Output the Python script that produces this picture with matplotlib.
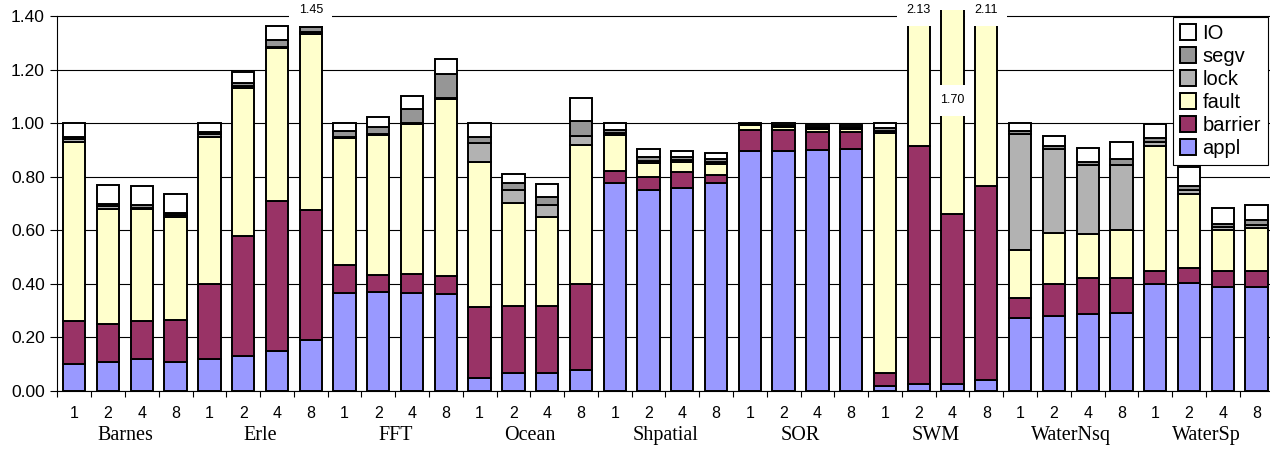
import numpy as np
import matplotlib.pyplot as plt
from matplotlib import transforms

plt.rcParams['font.family'] = ['Liberation Sans', 'DejaVu Sans']

groups = ['Barnes', 'Erle', 'FFT', 'Ocean', 'Shpatial', 'SOR', 'SWM', 'WaterNsq', 'WaterSp']
procs = ['1', '2', '4', '8']

# normalized execution time breakdown, 4 processor counts per app
appl = [0.10, 0.11, 0.12, 0.11,  0.12, 0.13, 0.15, 0.19,
        0.365, 0.37, 0.367, 0.363,  0.05, 0.067, 0.067, 0.08,
        0.776, 0.751, 0.757, 0.776,  0.898, 0.896, 0.90, 0.902,
        0.018, 0.025, 0.027, 0.04,  0.274, 0.28, 0.289, 0.292,
        0.40, 0.404, 0.388, 0.388]
barrier = [0.16, 0.14, 0.14, 0.155,  0.28, 0.45, 0.56, 0.485,
           0.105, 0.065, 0.07, 0.067,  0.265, 0.25, 0.25, 0.318,
           0.045, 0.048, 0.06, 0.03,  0.075, 0.079, 0.069, 0.067,
           0.05, 0.89, 0.635, 0.727,  0.073, 0.12, 0.133, 0.13,
           0.05, 0.055, 0.059, 0.062]
fault = [0.67, 0.43, 0.42, 0.385,  0.55, 0.55, 0.57, 0.66,
         0.475, 0.52, 0.56, 0.66,  0.54, 0.385, 0.333, 0.522,
         0.135, 0.053, 0.037, 0.042,  0.02, 0.01, 0.008, 0.008,
         0.897, 1.18, 1.0, 1.30,  0.178, 0.19, 0.165, 0.18,
         0.464, 0.277, 0.155, 0.159]
lock = [0.01, 0.01, 0.005, 0.008,  0.008, 0.008, 0.005, 0.005,
        0.005, 0.005, 0.005, 0.005,  0.07, 0.048, 0.044, 0.033,
        0.008, 0.008, 0.008, 0.008,  0.002, 0.005, 0.005, 0.005,
        0.005, 0.01, 0.005, 0.01,  0.435, 0.313, 0.258, 0.243,
        0.015, 0.015, 0.01, 0.012]
segv = [0.01, 0.01, 0.01, 0.008,  0.01, 0.012, 0.025, 0.02,
        0.02, 0.025, 0.05, 0.09,  0.025, 0.025, 0.03, 0.055,
        0.012, 0.013, 0.013, 0.012,  0.002, 0.005, 0.005, 0.005,
        0.012, 0.01, 0.01, 0.01,  0.012, 0.013, 0.01, 0.02,
        0.016, 0.016, 0.01, 0.016]
io = [0.05, 0.07, 0.07, 0.07,  0.032, 0.04, 0.055, 0.09,
      0.03, 0.04, 0.048, 0.055,  0.05, 0.035, 0.05, 0.087,
      0.024, 0.03, 0.02, 0.022,  0.003, 0.005, 0.005, 0.006,
      0.018, 0.015, 0.023, 0.023,  0.028, 0.038, 0.053, 0.064,
      0.053, 0.068, 0.062, 0.056]

names = ['appl', 'barrier', 'fault', 'lock', 'segv', 'IO']
series = [appl, barrier, fault, lock, segv, io]
colors = ['#9999FF', '#993366', '#FFFFCC', '#B2B2B2', '#969696', '#FFFFFF']

ymax = 1.423

fig = plt.figure(figsize=(12.7, 4.5), dpi=100)
ax = fig.add_axes([0.0452, 0.1311, 0.9575, 0.8467])

x = np.arange(len(appl))
bottom = np.zeros(len(appl))
handles = []
for vals, col, name in zip(series, colors, names):
    vals = np.array(vals)
    b = ax.bar(x, vals, 0.66, bottom=bottom, color=col, edgecolor='black',
               linewidth=1.4, label=name, zorder=3)
    handles.append(b)
    bottom += vals

# totals of the bars that run off the top
label_y = {26: 1.086}
for i, tot in enumerate(bottom):
    if tot > 1.40:
        ax.text(i, label_y.get(i, ymax - 0.001), f'{tot:.2f}', ha='center', va='center',
                fontsize=9, zorder=6, clip_on=False,
                bbox=dict(boxstyle='square,pad=0.75', fc='white', ec='none'))

ax.set_xlim(-0.5, len(appl) - 0.5)
ax.set_ylim(0, ymax)
ax.set_yticks(np.arange(0, 1.41, 0.2))
ax.set_yticklabels([f'{v:.2f}' for v in np.arange(0, 1.41, 0.2)], fontsize=12.5)
ax.yaxis.grid(True, color='black', linewidth=0.8)
ax.set_axisbelow(True)
ax.spines['top'].set_visible(False)
ax.spines['right'].set_visible(False)
ax.spines['left'].set_bounds(0, 1.4)
ax.tick_params(axis='y', length=5, width=0.8, pad=4)

ax.set_xticks(x)
ax.set_xticklabels(procs * len(groups), fontsize=11.5)
ax.set_xticks(np.arange(-0.5, len(appl)), minor=True)
ax.tick_params(axis='x', which='major', length=0, pad=11)
ax.tick_params(axis='x', which='minor', length=4, width=0.8)

trans = transforms.blended_transform_factory(ax.transData, ax.transAxes)
for g, name in enumerate(groups):
    ax.text(4 * g + 1.5, -0.1155, name, transform=trans, ha='center', va='center',
            fontsize=14.5, family='Liberation Serif')

leg = ax.legend(handles[::-1], names[::-1], loc='upper right',
                bbox_to_anchor=(0.9984, 0.9622), bbox_transform=fig.transFigure,
                fontsize=14.5, frameon=True, fancybox=False, framealpha=1,
                edgecolor='black', handlelength=0.8, handleheight=0.8,
                handletextpad=0.3, labelspacing=0.2, borderpad=0.35,
                borderaxespad=0)
leg.get_frame().set_linewidth(0.8)
leg.set_zorder(10)

fig.savefig('out.png', dpi=100)
